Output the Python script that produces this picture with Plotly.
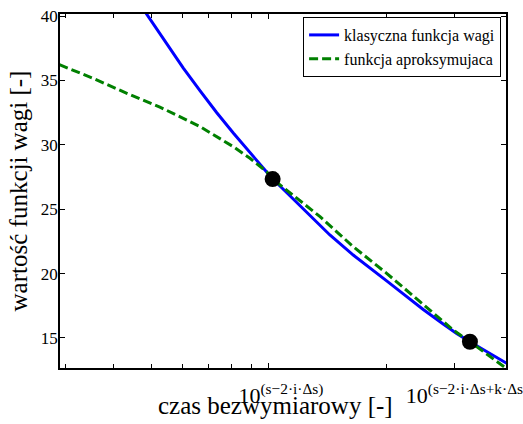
import plotly.graph_objects as go

# Dimensionless time (log axis) and weight-function values
t_classic = [0.467, 0.547, 0.603, 0.666, 0.734, 0.810, 0.894, 0.977, 1.022,
             1.067, 1.224, 1.433, 1.645, 1.816, 2.004, 2.210, 2.487, 2.798,
             3.029, 3.277, 3.615, 4.070]
w_classic = [40.90, 37.83, 35.96, 34.18, 32.51, 30.92, 29.40, 28.04, 27.34,
             26.80, 25.02, 23.00, 21.44, 20.40, 19.43, 18.42, 17.21, 16.09,
             15.35, 14.71, 13.94, 13.04]

t_approx = [0.290, 0.354, 0.432, 0.525, 0.666, 0.810, 0.894, 0.987, 1.022,
            1.110, 1.352, 1.645, 2.004, 2.439, 2.969, 3.277, 4.100]
w_approx = [36.22, 35.16, 34.00, 32.93, 31.41, 29.85, 28.95, 27.91, 27.34,
            26.49, 24.42, 22.09, 20.02, 17.82, 15.62, 14.71, 12.55]

# Fitting nodes shared by both curves
t_nodes = [1.022, 3.277]
w_nodes = [27.34, 14.71]

# Axis ticks
x_tickvals = [1, 3]
x_ticktext = ["10<sup>(s\u22122\u00b7i\u00b7\u0394s)</sup>",
              "10<sup>(s\u22122\u00b7i\u00b7\u0394s+k\u00b7\u0394s)</sup>"]
x_minorvals = [0.3, 0.4, 0.5, 0.6, 0.7, 0.8, 0.9, 2]
y_tickvals = [15, 20, 25, 30, 35, 40]

FONT = "Liberation Serif"

fig = go.Figure()
fig.add_trace(go.Scatter(
    x=t_classic, y=w_classic, mode="lines", name="klasyczna funkcja wagi",
    line=dict(color="#0000ff", width=3)))
fig.add_trace(go.Scatter(
    x=t_approx, y=w_approx, mode="lines", name="funkcja aproksymujaca",
    line=dict(color="#008000", width=3, dash="9px,4px")))
fig.add_trace(go.Scatter(
    x=t_nodes, y=w_nodes, mode="markers", showlegend=False,
    marker=dict(color="black", size=16)))

fig.update_layout(
    width=523, height=424,
    margin=dict(l=60, r=17, t=14, b=56, autoexpand=False),
    paper_bgcolor="white", plot_bgcolor="white",
    font=dict(family=FONT, color="black"),
    legend=dict(
        x=0.989, y=0.9915, xanchor="right", yanchor="top",
        bgcolor="white", bordercolor="black", borderwidth=1,
        font=dict(family=FONT, size=16, color="black"),
        tracegroupgap=0, itemwidth=30),
    annotations=[dict(
        text="czas bezwymiarowy [-]", xref="paper", yref="paper",
        x=0.484, y=0, xanchor="center", yanchor="top", yshift=-23,
        showarrow=False, borderpad=0,
        font=dict(family=FONT, size=25, color="black"))],
)

fig.update_xaxes(
    type="log", range=[-0.536, 0.608],
    tickvals=x_tickvals, ticktext=x_ticktext,
    ticks="inside", ticklen=5, tickwidth=1, tickcolor="black",
    minor=dict(tickvals=x_minorvals, ticks="inside", ticklen=4,
               tickwidth=1, tickcolor="black", showgrid=False),
    tickfont=dict(family=FONT, size=22, color="black"),
    ticklabelshift=12, ticklabelstandoff=7, ticklabeloverflow="allow",
    showline=True, linecolor="black", linewidth=1.5, mirror="ticks",
    showgrid=False, zeroline=False, automargin=False,
)
fig.update_yaxes(
    range=[12.67, 40.155],
    tickvals=y_tickvals,
    ticks="inside", ticklen=5, tickwidth=1, tickcolor="black",
    tickfont=dict(family=FONT, size=17, color="black"),
    ticklabelstandoff=-3,
    showline=True, linecolor="black", linewidth=1.5, mirror="ticks",
    showgrid=False, zeroline=False, automargin=False,
    title=dict(text="warto\u015b\u0107 funkcji wagi [-]",
               font=dict(family=FONT, size=25, color="black"), standoff=6),
)

fig.write_html("out.html")
